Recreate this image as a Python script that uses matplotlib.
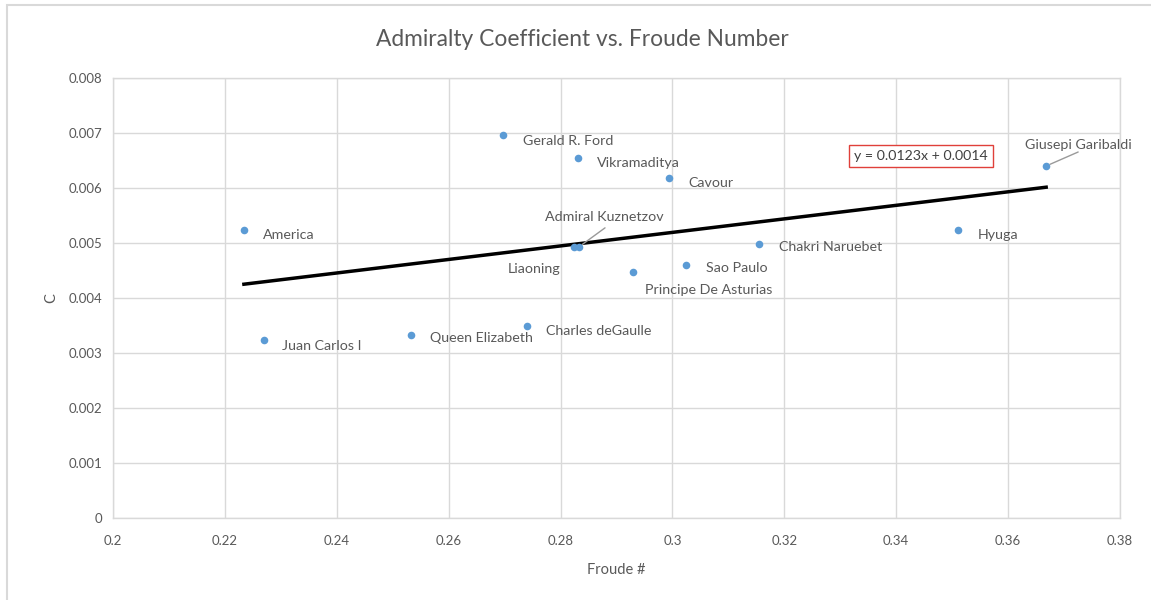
import numpy as np
import matplotlib
matplotlib.use("Agg")
import matplotlib.pyplot as plt
from matplotlib.patches import Rectangle

ships = ["America", "Juan Carlos I", "Queen Elizabeth", "Charles deGaulle",
         "Gerald R. Ford", "Vikramaditya", "Cavour", "Admiral Kuznetzov",
         "Liaoning", "Principe De Asturias", "Sao Paulo", "Chakri Naruebet",
         "Hyuga", "Giusepi Garibaldi"]
froude = [0.2234, 0.2270, 0.2533, 0.2740, 0.2697, 0.2831, 0.2994, 0.2833,
          0.2824, 0.2930, 0.3024, 0.3155, 0.3511, 0.3668]
admiralty = [0.00524, 0.00324, 0.00333, 0.00349, 0.00696, 0.00655, 0.00618,
             0.00493, 0.00493, 0.00447, 0.00460, 0.00498, 0.00524, 0.00640]
x_ticks = [0.2, 0.22, 0.24, 0.26, 0.28, 0.3, 0.32, 0.34, 0.36, 0.38]
x_tick_labels = ["0.2", "0.22", "0.24", "0.26", "0.28", "0.3", "0.32", "0.34", "0.36", "0.38"]
y_ticks = [0, 0.001, 0.002, 0.003, 0.004, 0.005, 0.006, 0.007, 0.008]
y_tick_labels = ["0", "0.001", "0.002", "0.003", "0.004", "0.005", "0.006", "0.007", "0.008"]
equation_text = "y = 0.0123x + 0.0014"

# label offsets in pixels (dx, dy), alignment
label_style = {
    "America": ((19, -5), "left"),
    "Juan Carlos I": ((18, -6), "left"),
    "Queen Elizabeth": ((19, -3), "left"),
    "Charles deGaulle": ((19, -5), "left"),
    "Gerald R. Ford": ((20, -6), "left"),
    "Vikramaditya": ((19, -5), "left"),
    "Cavour": ((19, -5), "left"),
    "Admiral Kuznetzov": ((25, 30), "center"),
    "Liaoning": ((-40, -22), "center"),
    "Principe De Asturias": ((75, -18), "center"),
    "Sao Paulo": ((20, -3), "left"),
    "Chakri Naruebet": ((20, -3), "left"),
    "Hyuga": ((19, -5), "left"),
    "Giusepi Garibaldi": ((32, 21), "center"),
}
# leader line start (offset pixels from the point)
leader_start = {"Admiral Kuznetzov": (26, 19), "Giusepi Garibaldi": (32, 14)}

plt.rcParams['font.family'] = ['Lato', 'DejaVu Sans']
fig = plt.figure(figsize=(11.51, 6.0), dpi=100)
ax = fig.add_axes([113/1151, 1-518/600, (1120-113)/1151, (518-78)/600])

grid_c = "#d9d9d9"
text_c = "#595959"

ax.set_xlim(0.2, 0.38)
ax.set_ylim(0, 0.008)
ax.set_xticks(x_ticks)
ax.set_xticklabels(x_tick_labels)
ax.set_yticks(y_ticks)
ax.set_yticklabels(y_tick_labels)
ax.grid(True, color=grid_c, linewidth=1.0)
ax.set_axisbelow(True)
for s in ax.spines.values():
    s.set_color(grid_c)
    s.set_linewidth(1.0)
ax.tick_params(length=0, labelsize=9.5, labelcolor=text_c, pad=8)
ax.tick_params(axis='x', pad=12)

ax.scatter(froude, admiralty, s=30, color="#5B9BD5", zorder=3, linewidths=0)

slope, intercept = np.polyfit(froude, admiralty, 1)
xs = np.array([min(froude), max(froude)])
ax.plot(xs, slope * xs + intercept, color="black", linewidth=2.5, zorder=2)

for name, xv, yv in zip(ships, froude, admiralty):
    (dx, dy), ha = label_style[name]
    ax.annotate(name, (xv, yv), xytext=(dx, dy), textcoords="offset pixels",
                ha=ha, va="center", fontsize=10.3, color=text_c)
    if name in leader_start:
        ax.annotate("", (xv, yv), xytext=leader_start[name], textcoords="offset pixels",
                    arrowprops=dict(arrowstyle="-", color="#9a9a9a", lw=1.0,
                                    shrinkA=0, shrinkB=3))

fig.text(921/1151, 1-156/600, equation_text, ha="center", va="center",
         fontsize=10.2, color="#404040",
         bbox=dict(boxstyle="square,pad=0.35", fc="white", ec="#e0403a", lw=1.0))

ax.set_xlabel("Froude #", fontsize=10.5, color=text_c, labelpad=12)
ax.set_ylabel("C", fontsize=10.5, color=text_c, labelpad=7)

fig.text(582/1151, 1-40/600, "Admiralty Coefficient vs. Froude Number",
         ha="center", va="center", fontsize=16.4, color=text_c)

# outer chart frame
fig.patches.append(Rectangle((7/1151, -0.01), 1.2, 1-5/600+0.01, transform=fig.transFigure,
                             fill=False, ec="#d9d9d9", lw=1.5))

fig.savefig("out.png", dpi=100)
